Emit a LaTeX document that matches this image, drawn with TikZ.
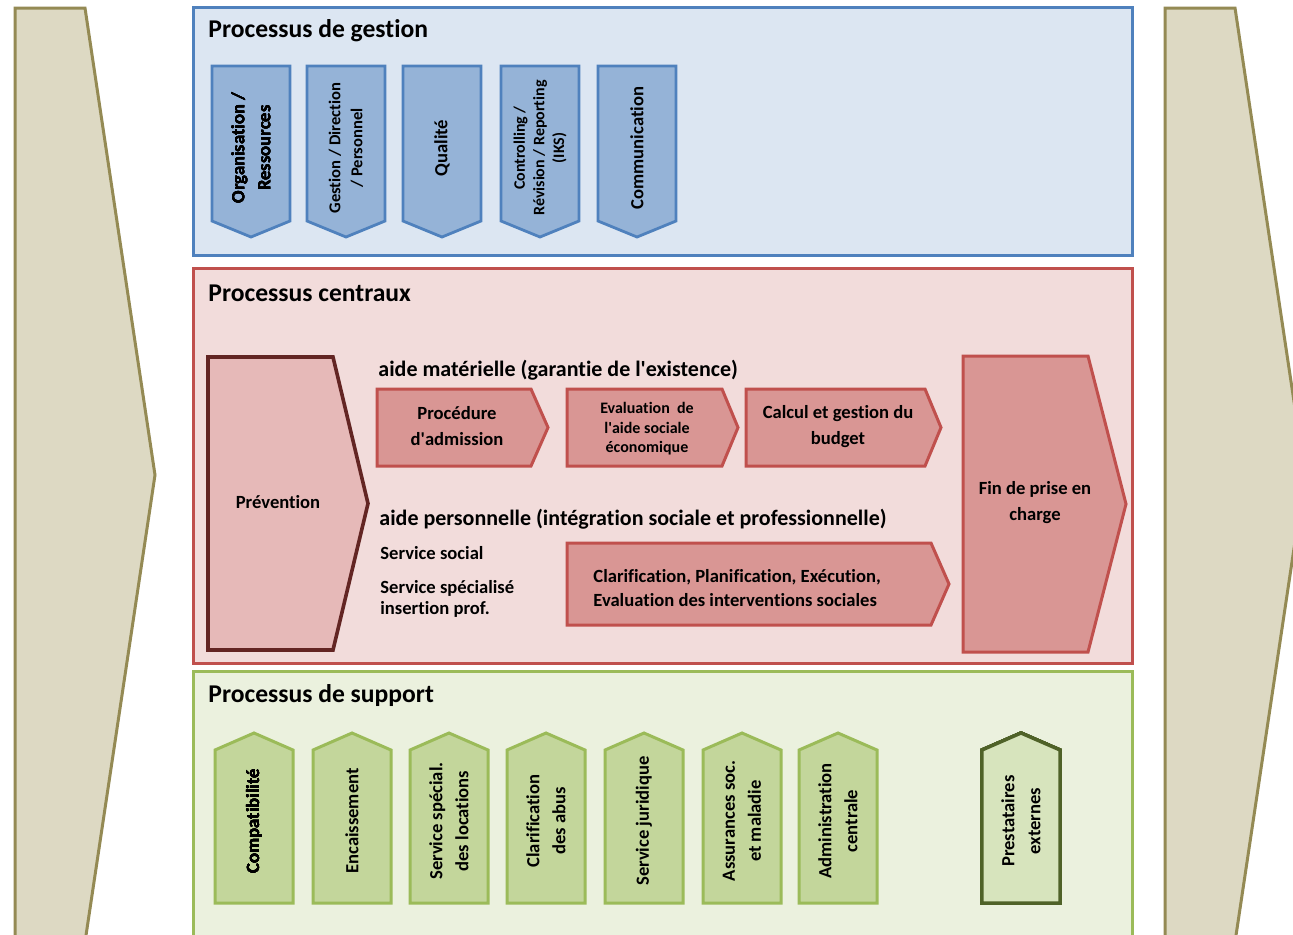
\documentclass[tikz,border=0pt]{standalone}
\usepackage{fontspec}
\setmainfont[Ligatures={NoCommon}]{Carlito}

\definecolor{gestfill}{HTML}{DCE6F2}
\definecolor{gestline}{HTML}{4F81BD}
\definecolor{gestchev}{HTML}{95B3D7}
\definecolor{centfill}{HTML}{F2DCDB}
\definecolor{centline}{HTML}{C0504D}
\definecolor{centchev}{HTML}{D99694}
\definecolor{prevfill}{HTML}{E6B9B8}
\definecolor{prevline}{HTML}{632523}
\definecolor{suppfill}{HTML}{EBF1DE}
\definecolor{suppline}{HTML}{9BBB59}
\definecolor{suppchev}{HTML}{C3D69B}
\definecolor{extfill}{HTML}{D7E4BD}
\definecolor{extline}{HTML}{4F6228}
\definecolor{sidefill}{HTML}{DDD9C3}
\definecolor{sideline}{HTML}{948A54}

\newcommand{\ftitle}{\fontsize{12.8}{15}\selectfont}
\newcommand{\fsub}{\fontsize{11}{13}\selectfont}
\newcommand{\fbody}{\fontsize{9.3}{13}\selectfont}
\newcommand{\fsmall}{\fontsize{8}{9.8}\selectfont}
\newcommand{\apos}{\textquotesingle}

% chevrons: [style]{x}{y}{width}{height}{tip length}
\newcommand{\rchev}[6][]{\draw[#1] (#2,#3) -- ++({#4-#6},0) -- ++(#6,{#5/2}) -- ++(-#6,{#5/2}) -- ++({#6-#4},0) -- cycle;}
\newcommand{\dchev}[6][]{\draw[#1] (#2,#3) -- ++(#4,0) -- ++(0,{#5-#6}) -- ++({-#4/2},#6) -- ++({-#4/2},-#6) -- cycle;}
\newcommand{\uchev}[6][]{\draw[#1] (#2,#3) -- ++(#4,0) -- ++(0,{#6-#5}) -- ++({-#4/2},-#6) -- ++({-#4/2},#6) -- cycle;}

\begin{document}
\begin{tikzpicture}[x=0.5pt, y=-0.5pt, font=\bfseries,
    sidechev/.style={draw=sideline, fill=sidefill, line width=1.5pt},
    frame/.style={line width=1.5pt},
    gchev/.style={draw=gestline, fill=gestchev, line width=1.4pt},
    cchev/.style={draw=centline, fill=centchev, line width=1.5pt},
    prev/.style={draw=prevline, fill=prevfill, line width=1.8pt},
    schev/.style={draw=suppline, fill=suppchev, line width=1.5pt},
    title/.style={anchor=base west, inner sep=0pt, font=\bfseries\ftitle},
    sub/.style={anchor=base west, inner sep=0pt, font=\bfseries\fsub},
    txt/.style={inner sep=0pt, align=center, font=\bfseries\fbody},
    vtxt/.style={txt, rotate=90}]
    \useasboundingbox (0,0) rectangle (1293,934);
    \clip (0,0) rectangle (1293,934);
    \fill[white] (0,0) rectangle (1293,934);

    % side arrows
    \rchev[sidechev]{15}{8}{140}{934}{70}
    \rchev[sidechev]{1165}{8}{140}{934}{70}

    % frames
    \draw[frame, draw=gestline, fill=gestfill] (193,7) rectangle (1132,255);
    \draw[frame, draw=centline, fill=centfill] (193,268) rectangle (1132,663);
    \draw[frame, draw=suppline, fill=suppfill] (193,671) rectangle (1132,945);

    \node[title] (tgest) at (208,37) {Processus de gestion};
    \node[title] (tcent) at (208,301) {Processus centraux};
    \node[title] (tsupp) at (208,702) {Processus de support};

    % management
    \foreach \x in {212,307,403,501,598}
        \dchev[gchev]{\x}{66}{78}{171}{16}
    \node[vtxt] (orga) at (251,148) {Organisation /\\Ressources};
    \node[vtxt, font=\bfseries\fontsize{8.3}{11}\selectfont] (gest) at (346,148) {Gestion / Direction\\/ Personnel};
    \node[vtxt] (qual) at (442,148) {Qualité};
    \node[vtxt, font=\bfseries\fsmall] (ctrl) at (540,148) {Controlling /\\Révision / Reporting\\(IKS)};
    \node[vtxt] (comm) at (637,148) {Communication};

    % core
    \rchev[prev]{208}{357}{160}{293}{35}
    \rchev[cchev]{377}{389}{171}{77}{17}
    \rchev[cchev]{567}{389}{171}{77}{16}
    \rchev[cchev]{746}{389}{195}{77}{16}
    \rchev[cchev]{567}{543}{382}{82}{18}
    \rchev[cchev]{963}{356}{163}{296}{38}
    \node[sub] (amat) at (378,376) {aide matérielle (garantie de l\apos existence)};
    \node[sub] (apers) at (379,525) {aide personnelle (intégration sociale et professionnelle)};
    \node[txt, anchor=base] (prevt) at (278,508) {Prévention};
    \node[txt] (proc) at (457,426) {Procédure\\d\apos admission};
    \node[txt, font=\bfseries\fsmall] (eval) at (647,429) {Evaluation~ de\\l\apos aide sociale\\économique};
    \node[txt] (calc) at (838,427) {Calcul et gestion du\\budget};
    \node[txt] (fin) at (1035,503) {Fin de prise en\\charge};
    \node[txt, anchor=base west] (ssoc) at (380,559) {Service social};
    \node[txt, anchor=west, align=left, font=\bfseries\fontsize{9.3}{10.3}\selectfont] (sspec) at (380,599) {Service spécialisé\\insertion prof.};
    \node[txt, anchor=west, align=left, font=\bfseries\fontsize{9.3}{12.3}\selectfont] (clar) at (593,588) {Clarification, Planification, Exécution,\\Evaluation des interventions sociales};

    % support
    \foreach \x in {215,313,410,507,605,703,799}
        \uchev[schev]{\x}{903}{78}{170}{17}
    \uchev[schev, draw=extline, fill=extfill, line width=1.7pt]{982}{903}{78}{170}{17}
    \node[vtxt] (compta) at (254,821) {Compatibilité};
    \node[vtxt] (encais) at (352,821) {Encaissement};
    \node[vtxt] (locat) at (449,821) {Service spécial.\\des locations};
    \node[vtxt] (abus) at (546,821) {Clarification\\des abus};
    \node[vtxt] (jur) at (644,821) {Service juridique};
    \node[vtxt] (assur) at (742,821) {Assurances soc.\\et maladie};
    \node[vtxt] (admin) at (838,821) {Administration\\centrale};
    \node[vtxt] (prest) at (1021,821) {Prestataires\\externes};
\end{tikzpicture}
\end{document}
